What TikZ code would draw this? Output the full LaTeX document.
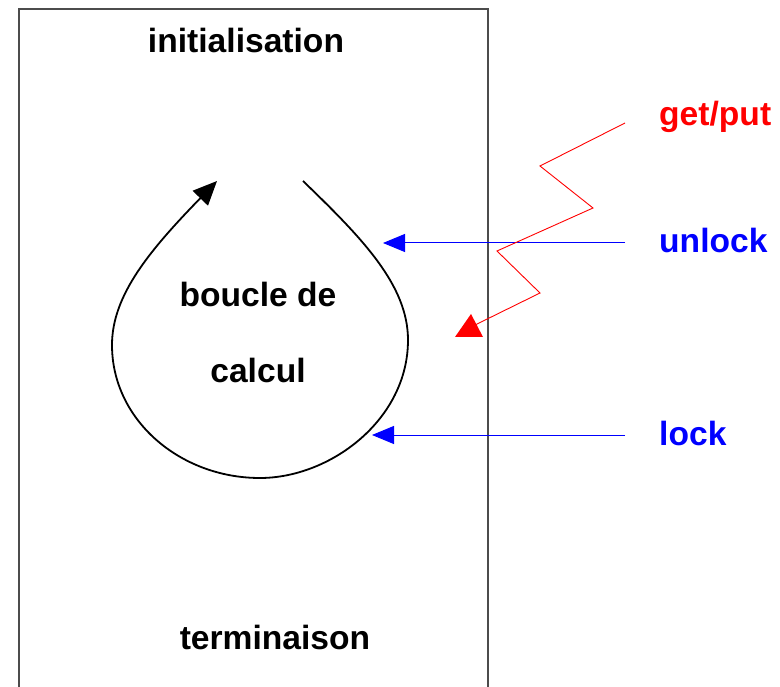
\documentclass[tikz,border=0pt]{standalone}
\usepackage{fontspec}
\setmainfont{Liberation Sans}
\usetikzlibrary{arrows.meta}
\begin{document}
\begin{tikzpicture}[x=1pt,y=-1pt,
  lbl/.style={font=\fontsize{33.6}{40}\selectfont\bfseries, inner sep=0pt, anchor=base},
  side/.style={lbl, anchor=base west},
  sig/.style={blue, line width=1pt, -{Triangle[length=22pt,width=18pt]}},
  loopline/.style={black, line width=1.8pt}]
\useasboundingbox (0,0) rectangle (780,687);
% process box (open at the bottom)
\draw[line width=1.2pt, black!70] (19,687) -- (19,9) -- (488,9) -- (488,687);
% texts
\node[lbl] (init) at (246,53) {initialisation};
\node[lbl] (term) at (275,649) {terminaison};
\node[lbl] (b1) at (258,307) {boucle de};
\node[lbl] (b2) at (258,382) {calcul};
\node[side, red] (gp) at (659,126) {get/put};
\node[side, blue] (ul) at (659,253) {unlock};
\node[side, blue] (lk) at (659,445) {lock};
% loop
\coordinate (ls) at (303,181);
\coordinate (le) at (217,181);
\draw[loopline, -{Triangle[length=24pt,width=21pt]}] (ls)
  .. controls (362,238) and (408,285) .. (408,340)
  .. controls (408,420) and (330,478) .. (260,478)
  .. controls (180,478) and (112,420) .. (112,345)
  .. controls (112,295) and (150,250) .. (le);
% unlock / lock signals
\coordinate (us) at (625,243);
\coordinate (ut) at (383,243);
\coordinate (ls2) at (625,435);
\coordinate (lt) at (372,435);
\draw[sig] (us) -- (ut);
\draw[sig] (ls2) -- (lt);
% get/put zigzag
\coordinate (z0) at (625,123);
\coordinate (z1) at (540,166);
\coordinate (z2) at (593,208);
\coordinate (z3) at (497,251);
\coordinate (z4) at (540,293);
\coordinate (z5) at (475,325);
\draw[red, line width=0.9pt] (z0) -- (z1) -- (z2) -- (z3) -- (z4) -- (z5);
\coordinate (t1) at (471,314);
\coordinate (t2) at (455,337);
\coordinate (t3) at (483,337);
\fill[red] (t1) -- (t2) -- (t3) -- cycle;
\end{tikzpicture}
\end{document}
